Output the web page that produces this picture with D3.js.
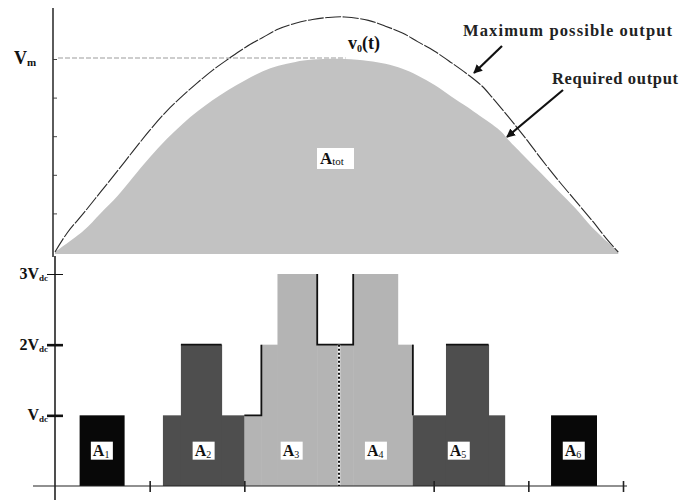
<!DOCTYPE html>
<html><head><meta charset="utf-8">
<script src="https://cdn.jsdelivr.net/npm/d3@7"></script>
<style>html,body{margin:0;padding:0;background:#fff;}svg{display:block;}</style>
</head><body>
<svg id="c" width="685" height="501"></svg>
<script>
// ---- data (x in switching segments 0..6, top values in units of Vm, bottom in units of Vdc)
const maxT = [0, 0.13, 0.30, 0.48, 0.66, 0.82, 1.00, 1.18, 1.35, 1.50, 1.66, 1.83, 2.01, 2.19, 2.36, 2.54, 2.72, 2.88, 3.06, 3.31, 3.49, 3.67, 3.83, 4.01, 4.19, 4.36, 4.51, 4.62, 4.79, 4.97, 5.14, 5.31, 5.49, 5.67, 5.84, 5.95];
const maxV = [0, 0.10, 0.20, 0.31, 0.42, 0.52, 0.63, 0.73, 0.81, 0.875, 0.94, 1.00, 1.06, 1.11, 1.155, 1.185, 1.205, 1.215, 1.218, 1.20, 1.17, 1.135, 1.09, 1.04, 0.98, 0.92, 0.86, 0.80, 0.70, 0.59, 0.48, 0.375, 0.27, 0.165, 0.06, 0];
const reqT = [0, 0.30, 0.48, 0.66, 0.82, 1.00, 1.18, 1.35, 1.51, 1.66, 1.83, 2.01, 2.19, 2.36, 2.54, 2.72, 3.06, 3.31, 3.49, 3.67, 3.83, 4.01, 4.19, 4.36, 4.49, 4.62, 4.72, 4.79, 4.97, 5.14, 5.31, 5.49, 5.67, 5.84, 5.95];
const reqV = [0, 0.11, 0.20, 0.29, 0.385, 0.49, 0.585, 0.665, 0.73, 0.785, 0.84, 0.89, 0.935, 0.965, 0.985, 0.997, 1.0, 0.99, 0.975, 0.95, 0.915, 0.865, 0.805, 0.75, 0.705, 0.66, 0.62, 0.58, 0.49, 0.405, 0.32, 0.23, 0.13, 0.05, 0];
const topTicks = [0.2, 0.4, 0.6, 0.8, 1.0];
const levelTicks = [1, 2, 3];
const levelLabels = ["V", "2V", "3V"];
const xTicks = [1, 2, 4, 5, 6];
const blockNames = ["1", "2", "3", "4", "5", "6"];
const blockKinds = ["black", "dark", "light", "light", "dark", "black"];
const blockSteps = [
  [[0.26, 0.73, 1]],
  [[1.14, 1.33, 1], [1.33, 1.76, 2], [1.76, 2.00, 1]],
  [[2.00, 2.18, 1], [2.18, 2.35, 2], [2.35, 2.77, 3], [2.77, 3.00, 2]],
  [[3.00, 3.15, 2], [3.15, 3.62, 3], [3.62, 3.78, 2]],
  [[3.78, 4.13, 1], [4.13, 4.58, 2], [4.58, 4.75, 1]],
  [[5.24, 5.72, 1]]
];
const outlines = [
  [[2.00, 1], [2.18, 1], [2.18, 2]],
  [[2.77, 3], [2.77, 2], [3.15, 2], [3.15, 3]],
  [[3.78, 2], [3.78, 1]],
  [[1.33, 2], [1.76, 2]],
  [[4.13, 2], [4.58, 2]]
];
const colors = {black: "#080808", dark: "#4e4e4e", light: "#b4b4b4"};

const svg = d3.select("#c");
const serif = "'Liberation Serif','DejaVu Serif',serif";
const x = d3.scaleLinear().domain([0, 6]).range([55, 623]);
const yT = d3.scaleLinear().domain([0, 1]).range([252, 59]);
const yB = d3.scaleLinear().domain([0, 3]).range([486, 274]);

// ---- top panel
const reqData = reqT.map((t, i) => [t, reqV[i]]);
const maxData = maxT.map((t, i) => [t, maxV[i]]);
svg.append("path").datum(reqData)
  .attr("d", d3.area().x(d => x(d[0])).y0(yT(0) + 2).y1(d => yT(d[1])).curve(d3.curveCatmullRom))
  .attr("fill", "#c2c2c2");
svg.append("line").attr("x1", 58).attr("x2", x(3.07)).attr("y1", yT(1) - 1).attr("y2", yT(1) - 1)
  .attr("stroke", "#bdbdbd").attr("stroke-width", 1.6).attr("stroke-dasharray", "5 2");
svg.append("path").datum(maxData)
  .attr("d", d3.line().x(d => x(d[0])).y(d => yT(d[1])).curve(d3.curveCatmullRom))
  .attr("fill", "none").attr("stroke", "#2a2a2a").attr("stroke-width", 1.1).attr("stroke-dasharray", "16 1.5");

const topAxis = svg.append("g").attr("transform", "translate(53,0)")
  .call(d3.axisRight(yT).tickValues(topTicks).tickSize(4).tickFormat(""));
topAxis.select(".domain").remove();
topAxis.selectAll("line").attr("stroke", "#444");
svg.append("line").attr("x1", 53).attr("x2", 53).attr("y1", 8).attr("y2", 257)
  .attr("stroke", "#333").attr("stroke-width", 1.6);

const vm = svg.append("text").attr("x", 14).attr("y", 64).attr("font-family", serif)
  .attr("font-weight", "bold").attr("font-size", 18).attr("fill", "#111");
vm.append("tspan").text("V");
vm.append("tspan").attr("font-size", 11).attr("dy", 2).text("m");

// A_tot label
svg.append("rect").attr("x", 317).attr("y", 148).attr("width", 37).attr("height", 21).attr("fill", "#fff");
const at = svg.append("text").attr("x", 320).attr("y", 164).attr("font-family", serif).attr("fill", "#111");
at.append("tspan").attr("font-weight", "bold").attr("font-size", 17).text("A");
at.append("tspan").attr("font-size", 11).attr("dy", 1).text("tot");

// curve annotations
const v0 = svg.append("text").attr("x", 348).attr("y", 49).attr("font-family", serif)
  .attr("font-weight", "bold").attr("font-size", 18).attr("fill", "#111");
v0.append("tspan").text("v");
v0.append("tspan").attr("font-size", 10).attr("dy", 3).text("0");
v0.append("tspan").attr("dy", -3).text("(t)");

svg.append("text").attr("x", 463).attr("y", 36).attr("font-family", serif).attr("font-weight", "bold")
  .attr("font-size", 16.5).attr("fill", "#222").attr("textLength", 209).attr("lengthAdjust", "spacing")
  .text("Maximum possible output");
svg.append("text").attr("x", 552).attr("y", 84).attr("font-family", serif).attr("font-weight", "bold")
  .attr("font-size", 16.5).attr("fill", "#222").attr("textLength", 126).attr("lengthAdjust", "spacing")
  .text("Required output");

const defs = svg.append("defs");
defs.append("marker").attr("id", "ah").attr("viewBox", "0 0 10 10").attr("refX", 9).attr("refY", 5)
  .attr("markerWidth", 4).attr("markerHeight", 4).attr("orient", "auto")
  .append("path").attr("d", "M0,0L10,5L0,10z").attr("fill", "#111");
svg.append("line").attr("x1", 502).attr("y1", 46).attr("x2", 474).attr("y2", 73)
  .attr("stroke", "#111").attr("stroke-width", 2.2).attr("marker-end", "url(#ah)");
svg.append("line").attr("x1", 563).attr("y1", 90).attr("x2", 507).attr("y2", 137)
  .attr("stroke", "#111").attr("stroke-width", 2.2).attr("marker-end", "url(#ah)");

// ---- bottom panel
blockSteps.forEach((steps, i) => {
  svg.append("g").selectAll("rect").data(steps).join("rect")
    .attr("x", d => x(d[0]))
    .attr("width", d => x(d[1]) - x(d[0]) + 0.5)
    .attr("y", d => yB(d[2]))
    .attr("height", d => yB(0) - yB(d[2]))
    .attr("fill", colors[blockKinds[i]]);
});
const ol = d3.line().x(d => x(d[0])).y(d => yB(d[1]));
outlines.forEach(o => {
  svg.append("path").attr("d", ol(o)).attr("fill", "none").attr("stroke", "#111").attr("stroke-width", 1.8);
});
// center dotted divider
svg.append("line").attr("x1", x(3)).attr("x2", x(3)).attr("y1", yB(2)).attr("y2", yB(0))
  .attr("stroke", "#fff").attr("stroke-width", 2.5);
svg.append("line").attr("x1", x(3)).attr("x2", x(3)).attr("y1", yB(2)).attr("y2", yB(0))
  .attr("stroke", "#111").attr("stroke-width", 2).attr("stroke-dasharray", "2 2");

// block labels
blockSteps.forEach((steps, i) => {
  const cx = (x(steps[0][0]) + x(steps[steps.length - 1][1])) / 2;
  const cy = yB(0.5);
  svg.append("rect").attr("x", cx - 11).attr("y", cy - 9).attr("width", 22).attr("height", 18).attr("fill", "#fff");
  const t = svg.append("text").attr("x", cx - 9).attr("y", cy + 5).attr("font-family", serif).attr("fill", "#111");
  t.append("tspan").attr("font-size", 16).attr("font-weight", "bold").text("A");
  t.append("tspan").attr("font-size", 10).attr("dy", 2).text(blockNames[i]);
});

// axes
svg.append("line").attr("x1", 55).attr("x2", 55).attr("y1", 256).attr("y2", 500)
  .attr("stroke", "#222").attr("stroke-width", 1.6);
const xAxis = svg.append("g").attr("transform", `translate(0,${yB(0)})`)
  .call(d3.axisBottom(x).tickValues(xTicks).tickSize(6).tickFormat(""));
xAxis.select(".domain").remove();
xAxis.selectAll("line").attr("stroke", "#222").attr("stroke-width", 1.6).attr("y1", -5);
svg.append("line").attr("x1", 33).attr("x2", 627).attr("y1", yB(0)).attr("y2", yB(0))
  .attr("stroke", "#222").attr("stroke-width", 1.2);

const yAxis = svg.append("g").attr("transform", "translate(55,0)")
  .call(d3.axisLeft(yB).tickValues(levelTicks).tickSize(8).tickFormat(""));
yAxis.select(".domain").remove();
yAxis.selectAll("line").attr("stroke", "#111").attr("x2", -8).attr("x1", 8)
  .attr("stroke-width", d => d === 3 ? 1 : 2.6);

levelTicks.forEach((lv, i) => {
  const t = svg.append("text").attr("x", 48).attr("y", yB(lv) + 5).attr("text-anchor", "end")
    .attr("font-family", serif).attr("font-weight", "bold").attr("fill", "#111");
  t.append("tspan").attr("font-size", 16).text(levelLabels[i]);
  t.append("tspan").attr("font-size", 9).attr("dy", 2).text("dc");
});
</script>
</body></html>
